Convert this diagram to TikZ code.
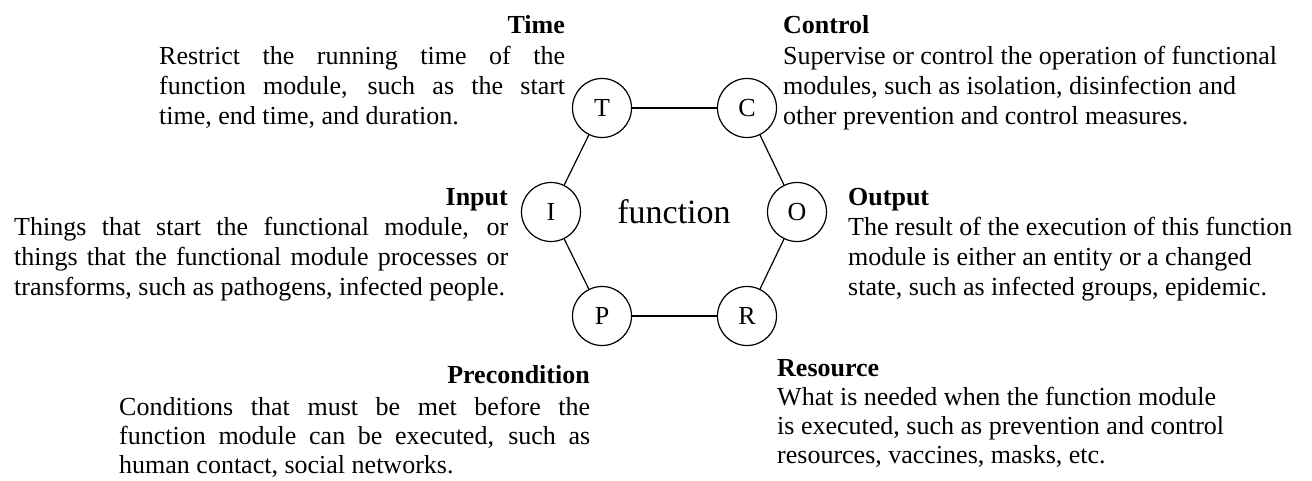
\documentclass[tikz,border=0pt]{standalone}
\usepackage{fontspec}
\setmainfont{Liberation Serif}
% a line stretched to a given width (pt), and a line at natural width
\newcommand\jl[2]{\hbox to #1pt{#2}}
\newcommand\nl[1]{\hbox{#1}}
\begin{document}
\begin{tikzpicture}[x=1pt,y=-1pt,
  circ/.style={circle,draw,line width=1.2pt,minimum size=59pt,inner sep=0pt,font=\fontsize{26}{30}\selectfont},
  link/.style={line width=1.2pt},
  headtext/.style={inner sep=0pt,font=\fontsize{26}{30}\selectfont\bfseries},
  bodytext/.style={inner sep=0pt,font=\fontsize{26}{30}\selectfont},
  lowtext/.style={inner sep=0pt,font=\fontsize{26}{29}\selectfont}]
\useasboundingbox (0,0) rectangle (1312,481);
\fill[white] (0,0) rectangle (1312,481);

% the six aspects of a function module
\node[circ] (T) at (602,108) {T};
\node[circ] (C) at (747,108) {C};
\node[circ] (I) at (551,212) {I};
\node[circ] (O) at (797,212) {O};
\node[circ] (P) at (602,316) {P};
\node[circ] (R) at (747,316) {R};
\node[inner sep=0pt,anchor=base,font=\fontsize{34}{40}\selectfont] (fn) at (674,224) {function};

\draw[link] (T) -- (C);
\draw[link] (C) -- (O);
\draw[link] (O) -- (R);
\draw[link] (R) -- (P);
\draw[link] (P) -- (I);
\draw[link] (I) -- (T);

% Time
\node[headtext,anchor=base east] (timehead) at (565,34) {Time};
\node[bodytext,anchor=base west] (timebody) at (159,65) {\vtop{%
  \jl{406}{Restrict the running time of the}%
  \jl{406}{function module, such as the start}%
  \nl{time, end time, and duration.}}};

% Control
\node[headtext,anchor=base west] (ctrlhead) at (783,34) {Control};
\node[bodytext,anchor=base west] (ctrlbody) at (783,65) {\vtop{%
  \nl{Supervise or control the operation of functional}%
  \nl{modules, such as isolation, disinfection and}%
  \nl{other prevention and control measures.}}};

% Input
\node[headtext,anchor=base east] (inhead) at (508,206) {Input};
\node[bodytext,anchor=base west] (inbody) at (14,236) {\vtop{%
  \jl{494}{Things that start the functional module, or}%
  \jl{494}{things that the functional module processes or}%
  \nl{transforms, such as pathogens, infected people.}}};

% Output
\node[headtext,anchor=base west] (outhead) at (848,206) {Output};
\node[bodytext,anchor=base west] (outbody) at (848,236) {\vtop{%
  \nl{The result of the execution of this function}%
  \nl{module is either an entity or a changed}%
  \nl{state, such as infected groups, epidemic.}}};

% Precondition
\node[headtext,anchor=base east] (prehead) at (590,383) {Precondition};
\node[lowtext,anchor=base west] (prebody) at (119,415) {\vtop{%
  \jl{471}{Conditions that must be met before the}%
  \jl{471}{function module can be executed, such as}%
  \nl{human contact, social networks.}}};

% Resource
\node[headtext,anchor=base west] (reshead) at (777,376) {Resource};
\node[lowtext,anchor=base west] (resbody) at (777,405) {\vtop{%
  \nl{What is needed when the function module}%
  \nl{is executed, such as prevention and control}%
  \nl{resources, vaccines, masks, etc.}}};
\end{tikzpicture}
\end{document}
